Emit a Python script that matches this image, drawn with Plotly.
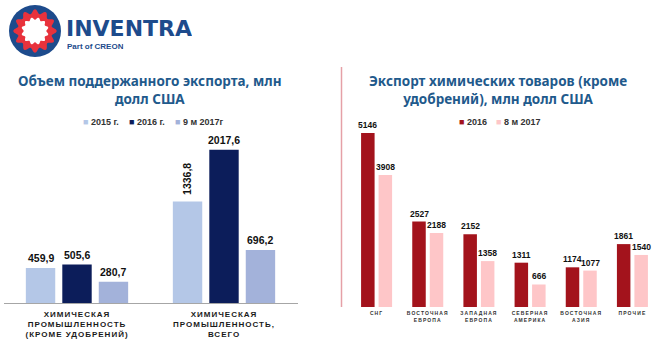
import math
import plotly.graph_objects as go

W, H = 662, 341

# ---------- data ----------
left_categories = [
    "ХИМИЧЕСКАЯ<br>ПРОМЫШЛЕННОСТЬ<br>(КРОМЕ УДОБРЕНИЙ)",
    "ХИМИЧЕСКАЯ<br>ПРОМЫШЛЕННОСТЬ,<br>ВСЕГО",
]
left_series = ["2015 г.", "2016 г.", "9 м 2017г"]
left_2015 = [459.9, 1336.8]
left_2016 = [505.6, 2017.6]
left_9m2017 = [280.7, 696.2]
left_values = [left_2015, left_2016, left_9m2017]

right_categories = [
    "СНГ",
    "ВОСТОЧНАЯ<br>ЕВРОПА",
    "ЗАПАДНАЯ<br>ЕВРОПА",
    "СЕВЕРНАЯ<br>АМЕРИКА",
    "ВОСТОЧНАЯ<br>АЗИЯ",
    "ПРОЧИЕ",
]
right_series = ["2016", "8 м 2017"]
right_2016 = [5146, 2527, 2152, 1311, 1174, 1861]
right_8m2017 = [3908, 2188, 1358, 666, 1077, 1540]
right_values = [right_2016, right_8m2017]

left_title = "Объем поддержанного экспорта, млн<br>долл США"
right_title = "Экспорт химических товаров (кроме<br>удобрений), млн долл США"

# ---------- styles ----------
LEFT_COLORS = ["#b4c7e7", "#0c1d5a", "#a3b2da"]
RIGHT_COLORS = ["#a3131c", "#fec6c8"]
TITLE_BLUE = "#1f5a8c"
LOGO_BLUE = "#1d4b8c"
LOGO_RED = "#e8323c"
ARIAL = "Liberation Sans, Arial, sans-serif"
TITLE_FONT = "Noto Sans, Open Sans, sans-serif"

L_WIDTH = 0.2
L_OFFSETS = [-0.348, -0.1, 0.148]
R_WIDTH = 0.264
R_OFFSETS = [-0.303, 0.039]


def px(x):
    return x / W


def py(y):
    return 1 - y / H


def fmt_comma(v):
    return f"{v:.1f}".replace(".", ",")


fig = go.Figure()

# left grouped bars
for name, vals, col, off in zip(left_series, left_values, LEFT_COLORS, L_OFFSETS):
    fig.add_trace(go.Bar(
        x=list(range(len(left_categories))), y=vals, name=name,
        marker=dict(color=col, line=dict(width=0)),
        width=L_WIDTH, offset=off, xaxis="x", yaxis="y",
        showlegend=False, hoverinfo="skip",
    ))

# right grouped bars
for name, vals, col, off in zip(right_series, right_values, RIGHT_COLORS, R_OFFSETS):
    fig.add_trace(go.Bar(
        x=list(range(len(right_categories))), y=vals, name=name,
        marker=dict(color=col, line=dict(width=0)),
        width=R_WIDTH, offset=off, xaxis="x2", yaxis="y2",
        showlegend=False, hoverinfo="skip",
    ))

annotations = []

# value labels, left
for vals, off in zip(left_values, L_OFFSETS):
    for i, v in enumerate(vals):
        vertical = v == 1336.8
        annotations.append(dict(
            x=i + off + L_WIDTH / 2, y=v, xref="x", yref="y",
            text=fmt_comma(v), showarrow=False,
            xanchor="center", yanchor="bottom", yshift=4 if vertical else 2,
            textangle=-90 if vertical else 0,
            font=dict(family=ARIAL, size=10.5, color="#111111", weight="bold"),
        ))

# value labels, right
for vals, off in zip(right_values, R_OFFSETS):
    for i, v in enumerate(vals):
        annotations.append(dict(
            x=i + off + R_WIDTH / 2, y=v, xref="x2", yref="y2",
            text=f"{v}", showarrow=False,
            xanchor="center", yanchor="bottom", yshift=1,
            font=dict(family=ARIAL, size=8.5, color="#111111", weight="bold"),
        ))

# titles
annotations.append(dict(
    x=px(150), y=py(89.5), xref="paper", yref="paper", text=left_title,
    showarrow=False, xanchor="center", yanchor="middle", align="center",
    font=dict(family=TITLE_FONT, size=13.5, color=TITLE_BLUE, weight="bold"),
))
annotations.append(dict(
    x=px(498), y=py(89.5), xref="paper", yref="paper", text=right_title,
    showarrow=False, xanchor="center", yanchor="middle", align="center",
    font=dict(family=TITLE_FONT, size=13.5, color=TITLE_BLUE, weight="bold"),
))

# legends
def legend_items(names, colors, xs, y):
    for name, col, x in zip(names, colors, xs):
        annotations.append(dict(
            x=px(x), y=py(y), xref="paper", yref="paper",
            text=f"<span style='color:{col}'>■</span> {name}",
            showarrow=False, xanchor="left", yanchor="middle",
            font=dict(family=ARIAL, size=9, color="#333333", weight="bold"),
        ))


legend_items(left_series, LEFT_COLORS, [81, 127, 173], 122)
legend_items(right_series, RIGHT_COLORS, [457, 494], 122)

# logo text
annotations.append(dict(
    x=px(65), y=py(28), xref="paper", yref="paper", text="INVENTRA",
    showarrow=False, xanchor="left", yanchor="middle", height=20, valign="middle",
    borderpad=0,
    font=dict(family="DejaVu Sans, sans-serif", size=22, color=LOGO_BLUE, weight="bold"),
))
annotations.append(dict(
    x=px(66), y=py(45.5), xref="paper", yref="paper", text="Part of CREON",
    showarrow=False, xanchor="left", yanchor="middle", height=8, valign="middle",
    borderpad=0,
    font=dict(family=ARIAL, size=8, color=LOGO_BLUE, weight="bold"),
))

shapes = []

# logo emblem
cx, cy = 35, 31
shapes.append(dict(type="circle", xref="paper", yref="paper",
                   x0=px(cx - 26), x1=px(cx + 26), y0=py(cy + 26), y1=py(cy - 26),
                   fillcolor=LOGO_BLUE, line=dict(width=0)))


def scallop(r0, amp, lobes, phase=0.0, n=240):
    pts = []
    for k in range(n):
        t = 2 * math.pi * k / n
        r = r0 + amp * math.cos(lobes * t + phase)
        pts.append((px(cx + r * math.cos(t)), py(cy + r * math.sin(t))))
    return "M " + " L ".join(f"{a:.5f},{b:.5f}" for a, b in pts) + " Z"


shapes.append(dict(type="path", xref="paper", yref="paper",
                   path=scallop(19.5, 2.2, 12), fillcolor=LOGO_RED, line=dict(width=0)))
shapes.append(dict(type="path", xref="paper", yref="paper",
                   path=scallop(12.5, 1.2, 12, math.pi), fillcolor="white", line=dict(width=0)))

# separator between the two panels
shapes.append(dict(type="line", xref="paper", yref="paper",
                   x0=px(341.5), x1=px(341.5), y0=py(67), y1=py(307),
                   line=dict(color="#e5a0a7", width=1.5)))

fig.update_layout(
    width=W, height=H,
    margin=dict(l=0, r=0, t=0, b=0),
    paper_bgcolor="white", plot_bgcolor="white",
    barmode="overlay",
    annotations=annotations, shapes=shapes,
    xaxis=dict(
        domain=[px(3.5), px(297.5)], range=[-0.5, 1.5], anchor="y",
        tickmode="array", tickvals=list(range(len(left_categories))),
        ticktext=left_categories,
        showline=True, linecolor="#a6a6a6", linewidth=1,
        showgrid=False, zeroline=False,
        ticks="outside", ticklen=3, tickcolor="rgba(0,0,0,0)",
        tickfont=dict(family=ARIAL, size=8, color="#1a1a1a", weight="bold"),
        fixedrange=True,
    ),
    yaxis=dict(
        domain=[py(303), py(130)], range=[0, 173 / 0.0760], anchor="x",
        visible=False, fixedrange=True,
    ),
    xaxis2=dict(
        domain=[px(351), px(658)], range=[-0.5, 5.5], anchor="y2",
        tickmode="array", tickvals=list(range(len(right_categories))),
        ticktext=right_categories,
        showline=False, showgrid=False, zeroline=False,
        ticks="outside", ticklen=1, tickcolor="rgba(0,0,0,0)",
        tickfont=dict(family=ARIAL, size=5, color="#333333", weight="bold"),
        fixedrange=True,
    ),
    yaxis2=dict(
        domain=[py(307), py(125)], range=[0, 182 / 0.0338], anchor="x2",
        visible=False, fixedrange=True,
    ),
    showlegend=False,
)

spacing_js = """
var gd = document.getElementById('{plot_id}');
function spaceTicks() {
  gd.querySelectorAll('.xtick text').forEach(function(t){ t.setAttribute('letter-spacing', '1px'); });
  gd.querySelectorAll('.x2tick text').forEach(function(t){ t.setAttribute('letter-spacing', '1.1px'); });
}
spaceTicks();
gd.on('plotly_afterplot', spaceTicks);
"""

fig.write_html("out.html", config={"displayModeBar": False}, post_script=spacing_js)
